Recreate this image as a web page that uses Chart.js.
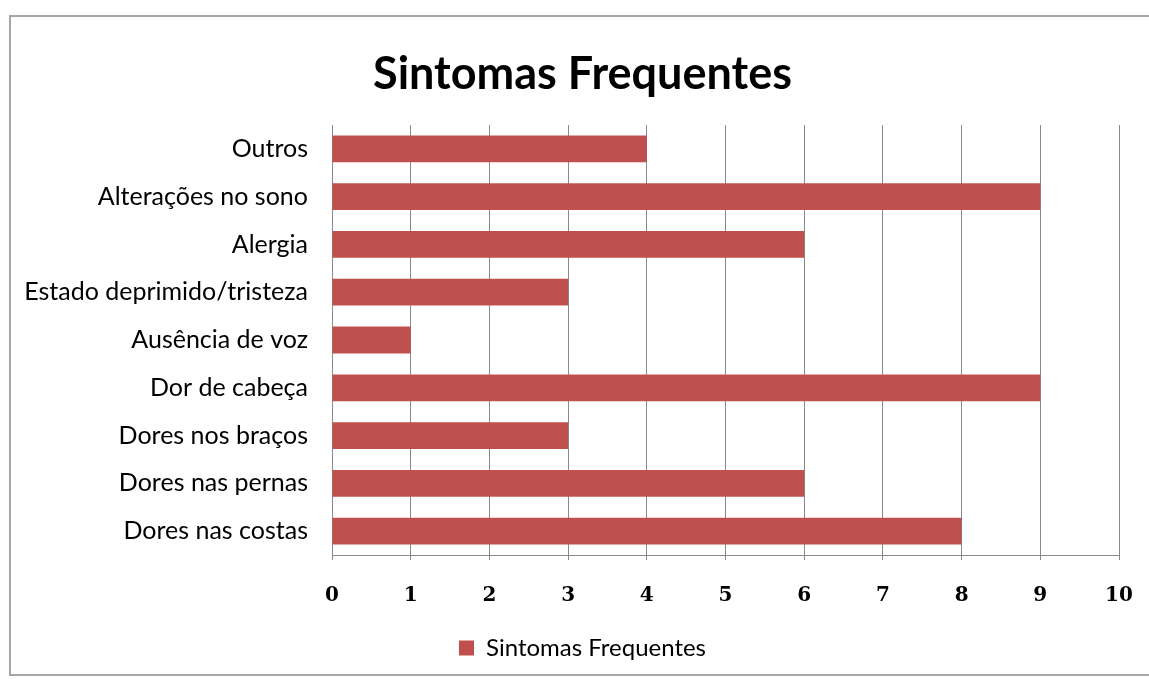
<!DOCTYPE html>
<html lang="pt">
<head>
    <meta charset="UTF-8">
    <title>Sintomas Frequentes</title>
    <script src="https://cdn.jsdelivr.net/npm/chart.js"></script>
    <style>
        html, body { margin: 0; padding: 0; background: #fff; }
        body { width: 1149px; height: 679px; position: relative; overflow: hidden; }
        .frame {
            position: absolute; left: 9px; top: 15px;
            width: 1160px; height: 661px;
            border: 2px solid #a6a6a6; box-sizing: border-box;
        }
        #chartWrap { position: absolute; left: 0; top: 0; width: 1149px; height: 679px; }
    </style>
</head>
<body>
    <div class="frame"></div>
    <div id="chartWrap"><canvas id="symptomChart"></canvas></div>

    <script>
        // Data, top to bottom as shown
        const symptoms = [
            "Outros",
            "Alterações no sono",
            "Alergia",
            "Estado deprimido/tristeza",
            "Ausência de voz",
            "Dor de cabeça",
            "Dores nos braços",
            "Dores nas pernas",
            "Dores nas costas"
        ];
        const counts = [4, 9, 6, 3, 1, 9, 3, 6, 8];
        const seriesName = "Sintomas Frequentes";
        const xTicks = [0, 1, 2, 3, 4, 5, 6, 7, 8, 9, 10];

        const gridGray = "#8a8a8a";
        const ctx = document.getElementById("symptomChart").getContext("2d");

        // let the long category labels run into the left padding instead of being clipped
        const unclipLabels = {
            id: "unclipLabels",
            afterLayout(chart) {
                chart.scales.y.left = 0;
            }
        };

        new Chart(ctx, {
            type: "bar",
            data: {
                labels: symptoms,
                datasets: [{
                    label: seriesName,
                    data: counts,
                    backgroundColor: "#c0504d",
                    borderWidth: 0,
                    barPercentage: 0.56,
                    categoryPercentage: 1.0
                }]
            },
            plugins: [unclipLabels],
            options: {
                indexAxis: "y",
                responsive: true,
                maintainAspectRatio: false,
                animation: false,
                layout: { padding: { left: 46, right: 30, top: 0, bottom: 9 } },
                plugins: {
                    title: {
                        display: true,
                        text: "Sintomas Frequentes",
                        color: "#000",
                        font: { family: "Lato", size: 45, weight: "bold" },
                        padding: { top: 47, bottom: 24 }
                    },
                    legend: {
                        display: true,
                        position: "bottom",
                        labels: {
                            color: "#000",
                            font: { family: "Lato", size: 24 },
                            boxWidth: 15,
                            boxHeight: 15,
                            padding: 10
                        }
                    },
                    tooltip: { enabled: false }
                },
                scales: {
                    x: {
                        min: 0,
                        max: 10,
                        afterBuildTicks: scale => {
                            scale.ticks = xTicks.map(v => ({ value: v }));
                        },
                        afterFit: scale => {
                            scale.height = 71;
                            scale.paddingLeft = 0;
                            scale.paddingRight = 0;
                        },
                        grid: { color: gridGray, lineWidth: 1, tickLength: 5, drawTicks: true },
                        border: { color: gridGray, width: 1 },
                        ticks: {
                            color: "#000",
                            padding: 24,
                            font: { family: "DejaVu Serif", size: 20, weight: "bold" }
                        }
                    },
                    y: {
                        afterFit: scale => { scale.width = 286; },
                        grid: { display: false },
                        border: { display: true, color: gridGray, width: 1 },
                        ticks: {
                            color: "#000",
                            padding: 16,
                            font: { family: "Lato", size: 25 }
                        }
                    }
                }
            }
        });
    </script>
</body>
</html>
